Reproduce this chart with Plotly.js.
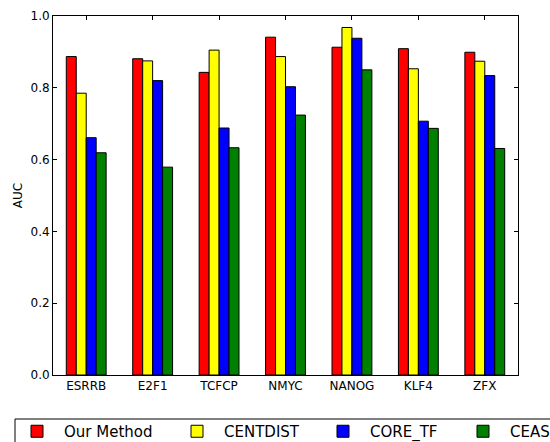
<!DOCTYPE html>
<html>
<head>
<meta charset="utf-8">
<script src="https://cdn.plot.ly/plotly-3.0.1.min.js"></script>
<style>html,body{margin:0;padding:0;background:#fff;}#chart{width:550px;height:442px;}</style>
</head>
<body>
<div id="chart"></div>
<script>
const categories = ['ESRRB', 'E2F1', 'TCFCP', 'NMYC', 'NANOG', 'KLF4', 'ZFX'];
const seriesNames = ['Our Method', 'CENTDIST', 'CORE_TF', 'CEAS'];
const ourMethod = [0.887, 0.881, 0.843, 0.941, 0.913, 0.909, 0.899];
const centdist  = [0.785, 0.875, 0.905, 0.887, 0.968, 0.853, 0.874];
const coreTF    = [0.661, 0.820, 0.688, 0.803, 0.938, 0.707, 0.834];
const ceas      = [0.619, 0.579, 0.633, 0.724, 0.850, 0.687, 0.631];
const yTickVals = [0, 0.2, 0.4, 0.6, 0.8, 1.0];
const yTickText = ['0.0', '0.2', '0.4', '0.6', '0.8', '1.0'];

const colors = ['#ff0000', '#ffff00', '#0000ff', '#008000'];
const values = [ourMethod, centdist, coreTF, ceas];
const legendIds = ['legend', 'legend', 'legend2', 'legend2'];
const legendWidths = [101, null, 81, null];

const data = values.map((v, i) => {
  const t = {
    type: 'bar',
    name: seriesNames[i],
    x: categories,
    y: v,
    legend: legendIds[i],
    marker: {color: colors[i], line: {color: '#000000', width: 1}},
    hoverinfo: 'x+y+name'
  };
  if (legendWidths[i]) t.legendwidth = legendWidths[i];
  return t;
});

const font = {family: 'DejaVu Sans, sans-serif', size: 12, color: '#000'};
const legendCommon = {
  orientation: 'h',
  xanchor: 'left',
  yanchor: 'top',
  bgcolor: 'rgba(0,0,0,0)',
  borderwidth: 0,
  itemwidth: 44,
  font: {family: 'DejaVu Sans, sans-serif', size: 15, color: '#000'},
  itemclick: false,
  itemdoubleclick: false
};

const layout = {
  width: 550,
  height: 442,
  margin: {l: 53, r: 32, t: 16, b: 67, pad: 0, autoexpand: false},
  paper_bgcolor: '#ffffff',
  plot_bgcolor: '#ffffff',
  font: font,
  barmode: 'group',
  bargap: 0.4,
  bargroupgap: 0,
  showlegend: true,
  legend: Object.assign({}, legendCommon, {x: (10 - 53) / 465, y: (375 - 415) / 359}),
  legend2: Object.assign({}, legendCommon, {x: (316 - 53) / 465, y: (375 - 415) / 359}),
  xaxis: {
    type: 'category',
    range: [-0.5, 6.5],
    showline: true, linecolor: '#000', linewidth: 1,
    mirror: 'ticks',
    ticks: 'inside', ticklen: 4, tickwidth: 1, tickcolor: '#000',
    showgrid: false, zeroline: false,
    tickfont: {family: 'DejaVu Sans, sans-serif', size: 12, color: '#000'}
  },
  yaxis: {
    range: [0, 1],
    tickvals: yTickVals,
    ticktext: yTickText,
    showline: true, linecolor: '#000', linewidth: 1,
    mirror: 'ticks',
    ticks: 'inside', ticklen: 4, tickwidth: 1, tickcolor: '#000',
    showgrid: false, zeroline: false,
    tickfont: {family: 'DejaVu Sans, sans-serif', size: 12, color: '#000'},
    title: {text: 'AUC', standoff: 5, font: {family: 'DejaVu Sans, sans-serif', size: 12, color: '#000'}}
  },
  shapes: [{
    type: 'rect', xref: 'paper', yref: 'paper',
    x0: (15 - 53) / 465, x1: (565 - 53) / 465,
    y0: (375 - 419) / 359, y1: (375 - 455) / 359,
    line: {color: '#000', width: 1}, fillcolor: 'rgba(0,0,0,0)', layer: 'above'
  }]
};

Plotly.newPlot('chart', data, layout, {displayModeBar: false, staticPlot: false});
</script>
</body>
</html>
